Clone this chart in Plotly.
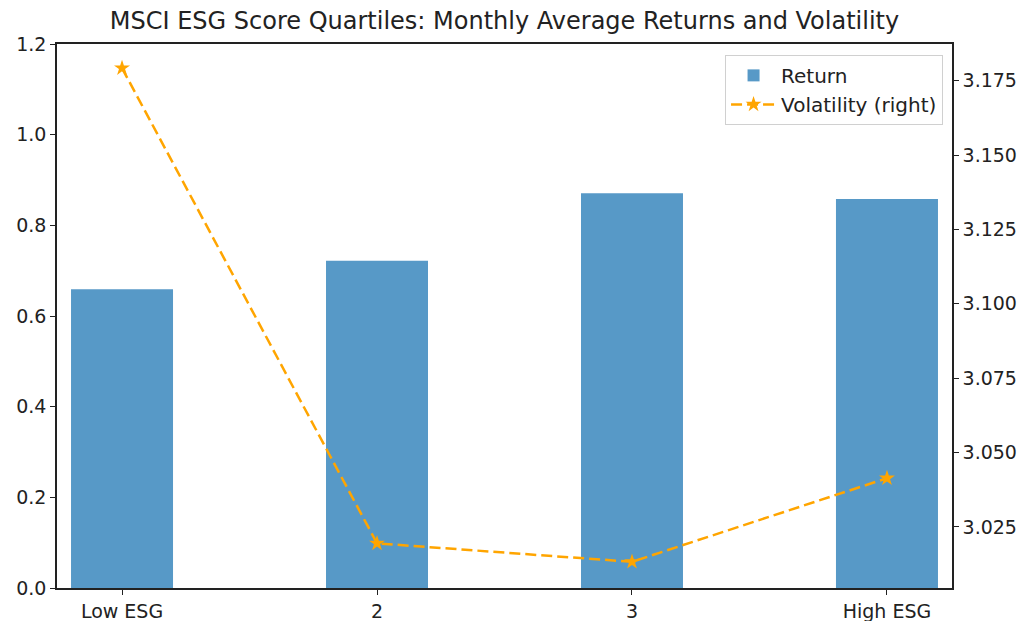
import plotly.graph_objects as go

categories = ["Low ESG", "2", "3", "High ESG"]
returns = [0.659, 0.722, 0.871, 0.858]
volatility = [3.1792, 3.0195, 3.0133, 3.0414]
left_ticks = [0.0, 0.2, 0.4, 0.6, 0.8, 1.0, 1.2]
right_ticks = [3.025, 3.050, 3.075, 3.100, 3.125, 3.150, 3.175]

xpos = list(range(len(categories)))
font = "DejaVu Sans"

fig = go.Figure()
fig.add_trace(go.Bar(
    x=xpos, y=returns, name="Return", width=0.4,
    marker=dict(color="rgba(31,119,180,0.75)", line=dict(width=0)),
    yaxis="y",
))
fig.add_trace(go.Scatter(
    x=xpos, y=volatility, name="Volatility (right)", mode="lines+markers",
    line=dict(color="#FFA500", width=2.5, dash="11px,5px"),
    marker=dict(symbol="star", size=12, color="#FFA500"),
    yaxis="y2",
))

axis_common = dict(
    showgrid=False, zeroline=False, showline=True, linecolor="#222", linewidth=1.5,
    ticks="outside", ticklen=5, tickcolor="#222", tickwidth=1.2, automargin=False,
    tickfont=dict(family=font, size=19, color="#222"),
)

fig.update_layout(
    width=1026, height=621,
    margin=dict(l=49, r=82, t=36, b=41),
    paper_bgcolor="white", plot_bgcolor="white",
    title=dict(text="MSCI ESG Score Quartiles: Monthly Average Returns and Volatility",
               font=dict(family=font, size=24, color="#222"),
               x=0.5, xref="paper", xanchor="center", y=1, yref="container", yanchor="top", pad=dict(t=4)),
    xaxis=dict(range=[-0.255, 3.255], tickvals=xpos, ticktext=categories, mirror=True, **axis_common),
    yaxis=dict(range=[0, 1.2], tickvals=left_ticks, tickformat=".1f", **axis_common),
    yaxis2=dict(range=[3.0045, 3.1873], tickvals=right_ticks, tickformat=".3f",
                overlaying="y", side="right", **axis_common),
    legend=dict(x=0.99, y=0.98, xanchor="right", yanchor="top", itemwidth=45,
                bordercolor="#d0d0d0", borderwidth=1, bgcolor="rgba(255,255,255,0.8)",
                font=dict(family=font, size=20, color="#222")),
    showlegend=True,
)

fig.write_html("out.html")
